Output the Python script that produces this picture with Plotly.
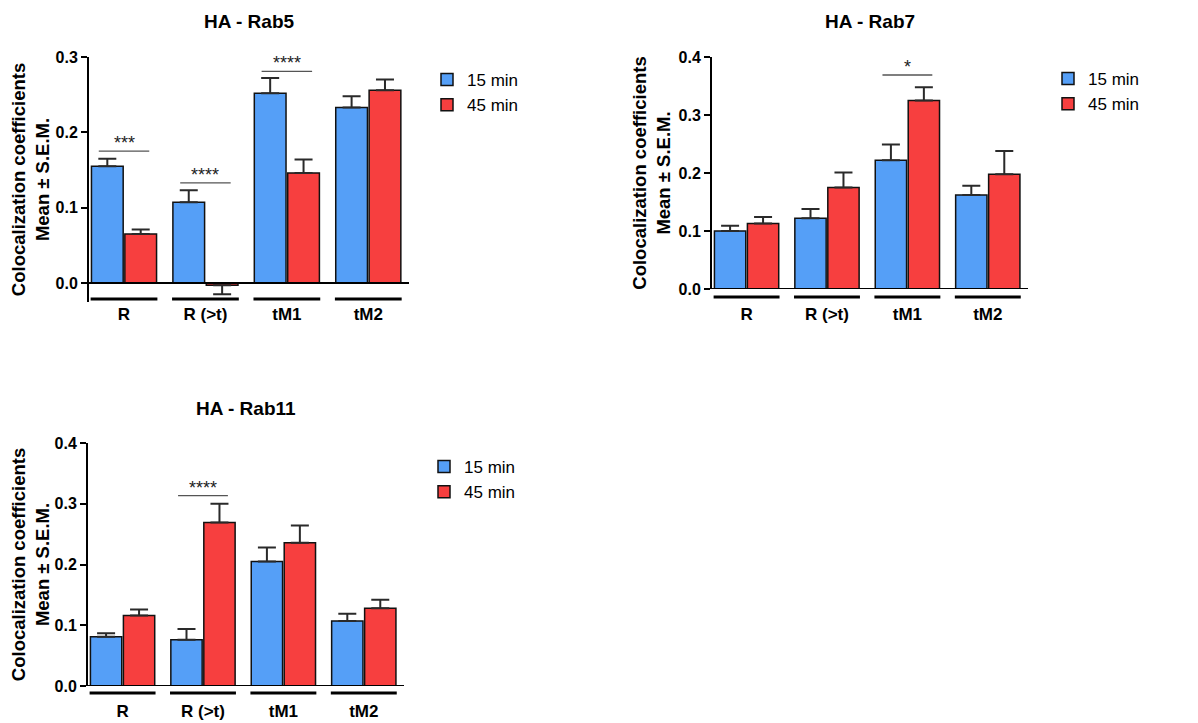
import plotly.graph_objects as go

# The page body has an 8px default margin, so the figure is laid out in
# reference pixel coordinates shifted by that margin.
OFF = 8
W, H = 1198 - OFF, 723 - OFF
FONT = "Liberation Sans, Arial, Helvetica, sans-serif"
BLUE = "#559FF7"
RED = "#F73F3F"

categories = ["R", "R (>t)", "tM1", "tM2"]
series_names = ["15 min", "45 min"]

# HA - Rab5
rab5_15 = [0.155, 0.107, 0.252, 0.233]
rab5_15_sem = [0.010, 0.016, 0.020, 0.015]
rab5_45 = [0.065, -0.003, 0.146, 0.256]
rab5_45_sem = [0.006, 0.012, 0.018, 0.014]
rab5_sig = [("R", 0.175, "***"), ("R (>t)", 0.133, "****"), ("tM1", 0.281, "****")]

# HA - Rab7
rab7_15 = [0.100, 0.122, 0.222, 0.162]
rab7_15_sem = [0.009, 0.016, 0.027, 0.016]
rab7_45 = [0.113, 0.175, 0.325, 0.198]
rab7_45_sem = [0.011, 0.026, 0.023, 0.040]
rab7_sig = [("tM1", 0.369, "*")]

# HA - Rab11
rab11_15 = [0.081, 0.076, 0.205, 0.107]
rab11_15_sem = [0.006, 0.018, 0.023, 0.012]
rab11_45 = [0.116, 0.269, 0.236, 0.128]
rab11_45_sem = [0.010, 0.031, 0.028, 0.014]
rab11_sig = [("R (>t)", 0.3135, "****")]

panels = [
    dict(title="HA - Rab5", s15=rab5_15, e15=rab5_15_sem, s45=rab5_45, e45=rab5_45_sem, sig=rab5_sig,
         px=(89, 409), py=(57, 302), yr=[-0.0253, 0.3], ticks=[0, 0.1, 0.2, 0.3], ul=299, lab_off=0,
         leg=(427, 62), title_y=21),
    dict(title="HA - Rab7", s15=rab7_15, e15=rab7_15_sem, s45=rab7_45, e45=rab7_45_sem, sig=rab7_sig,
         px=(712, 1028), py=(57, 289), yr=[0, 0.4], ticks=[0, 0.1, 0.2, 0.3, 0.4], ul=297, lab_off=13,
         leg=(1048, 61), title_y=22),
    dict(title="HA - Rab11", s15=rab11_15, e15=rab11_15_sem, s45=rab11_45, e45=rab11_45_sem, sig=rab11_sig,
         px=(88, 404), py=(443, 686), yr=[0, 0.4], ticks=[0, 0.1, 0.2, 0.3, 0.4], ul=693, lab_off=13,
         leg=(424, 449), title_y=408),
]


def fx(px):
    return (px - OFF) / W


def fy(py):
    return 1 - (py - OFF) / H


XR = [-0.43, 3.5]
HALF = 0.41

fig = go.Figure()
shapes = []
annotations = []

for k, p in enumerate(panels):
    n = "" if k == 0 else str(k + 1)
    xa, ya = "x" + n, "y" + n
    lg = "legend" if k == 0 else "legend" + str(k + 1)
    for name, vals, sems, col in [(series_names[0], p["s15"], p["e15"], BLUE),
                                  (series_names[1], p["s45"], p["e45"], RED)]:
        up = [e if v >= 0 else 0 for v, e in zip(vals, sems)]
        dn = [0 if v >= 0 else e for v, e in zip(vals, sems)]
        fig.add_trace(go.Bar(
            x=categories, y=vals, name=name, xaxis=xa, yaxis=ya, legend=lg,
            marker=dict(color=col, line=dict(color="#111111", width=1.5)),
            error_y=dict(type="data", symmetric=False, array=up, arrayminus=dn,
                         color="#2a2a2a", thickness=2, width=9),
        ))
    x0f, x1f = fx(p["px"][0]), fx(p["px"][1])
    y0f, y1f = fy(p["py"][1]), fy(p["py"][0])
    axfont = dict(family=FONT, size=16, color="black", weight="bold")
    fig.update_layout(**{
        "xaxis" + n: dict(domain=[x0f, x1f], anchor=ya, range=XR, type="category",
                          showline=False, ticks="", showgrid=False, zeroline=False,
                          tickfont=dict(family=FONT, size=17, color="black", weight="bold"),
                          ticklabelstandoff=p["lab_off"], automargin=False),
        "yaxis" + n: dict(domain=[y0f, y1f], anchor=xa, range=p["yr"], tickvals=p["ticks"],
                          tickformat=".1f", showline=True, linewidth=2, linecolor="black",
                          ticks="outside", ticklen=6, tickwidth=2, tickcolor="black",
                          showgrid=False, zeroline=False, tickfont=axfont, automargin=False,
                          title=dict(text="Colocalization coefficients<br>Mean ± S.E.M.",
                                     font=dict(family=FONT, size=18.5, color="black", weight="bold"),
                                     standoff=3)),
        lg: dict(x=fx(p["leg"][0]), y=fy(p["leg"][1]), xanchor="left", yanchor="top",
                 bgcolor="rgba(0,0,0,0)", tracegroupgap=6,
                 font=dict(family=FONT, size=17, color="black")),
    })
    # x axis line at zero
    shapes.append(dict(type="line", xref=xa, yref=ya, x0=XR[0], x1=XR[1], y0=0, y1=0,
                       line=dict(color="black", width=2)))
    # group underlines
    ul_dom = (p["py"][1] - p["ul"]) / (p["py"][1] - p["py"][0])
    for i, c in enumerate(categories):
        a = (i - HALF - XR[0]) / (XR[1] - XR[0])
        b = (i + HALF - XR[0]) / (XR[1] - XR[0])
        shapes.append(dict(type="line", xref=xa + " domain", yref=ya + " domain",
                           x0=a, x1=b, y0=ul_dom, y1=ul_dom, line=dict(color="black", width=3)))
    # significance bars
    for c, yv, txt in p["sig"]:
        i = categories.index(c)
        shapes.append(dict(type="line", xref=xa, yref=ya, x0=i - 0.31, x1=i + 0.31, y0=yv, y1=yv,
                           line=dict(color="#555555", width=1.3)))
        annotations.append(dict(text=txt, xref=xa, yref=ya, x=i, y=yv, yanchor="bottom",
                                showarrow=False, yshift=-4,
                                font=dict(family=FONT, size=18, color="#222222")))
    # panel title
    annotations.append(dict(text="<b>" + p["title"] + "</b>", xref="paper", yref="paper",
                            x=(x0f + x1f) / 2, y=fy(p["title_y"]), xanchor="center",
                            yanchor="middle", showarrow=False,
                            font=dict(family=FONT, size=19, color="black")))

fig.update_layout(
    width=W, height=H, template="none",
    margin=dict(l=0, r=0, t=0, b=0),
    paper_bgcolor="white", plot_bgcolor="white",
    barmode="group", bargap=0.18, bargroupgap=0.05,
    shapes=shapes, annotations=annotations,
    showlegend=True,
)

fig.write_html("out.html")
